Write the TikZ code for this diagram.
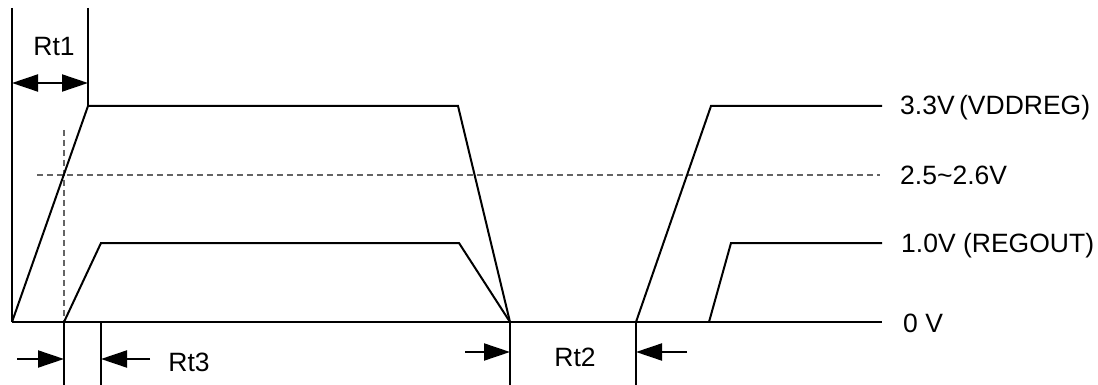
\documentclass[tikz,border=0pt]{standalone}
\usepackage{fontspec}
\setmainfont{Liberation Sans}
\usetikzlibrary{arrows.meta}
\definecolor{wvInk}{RGB}{0,0,0}
\definecolor{wvGray}{RGB}{100,100,100}
\tikzset{
    wave/.style={line width=2pt, color=wvInk, line join=miter},
    marker/.style={line width=2pt, color=wvInk},
    thresh/.style={line width=1.2pt, color=wvGray, dash pattern=on 6pt off 4pt},
    dimarrow/.style={line width=2pt, color=wvInk, -{Triangle[length=26pt, width=17pt]}},
    dimboth/.style={line width=2pt, color=wvInk,
                    {Triangle[length=26pt, width=17pt]}-{Triangle[length=26pt, width=17pt]}},
    level/.style={font=\fontsize{26.5}{32}\selectfont, anchor=base west, inner sep=0pt},
    tag/.style={font=\fontsize{26.5}{32}\selectfont, anchor=base, inner sep=0pt}
}
\begin{document}
\begin{tikzpicture}[x=1pt, y=-1pt]
  \useasboundingbox (0,0) rectangle (1098,385);

  % points of the two supplies
  \coordinate (start) at (12,322);
  \coordinate (vddUp) at (88,106);
  \coordinate (vddDn) at (458,106);
  \coordinate (low)   at (510,322);
  \coordinate (vddOn) at (636,322);
  \coordinate (vddHi) at (711,106);
  \coordinate (vddEnd) at (882,106);
  \coordinate (regOn) at (64,322);
  \coordinate (regUp) at (101,243);
  \coordinate (regDn) at (459,243);
  \coordinate (regOn2) at (709,322);
  \coordinate (regHi) at (731,243);
  \coordinate (regEnd) at (882,243);
  \coordinate (zeroEnd) at (882,322);

  % threshold lines
  \draw[thresh] (37,175) -- (880,175);
  \draw[thresh] (64,130) -- (regOn);

  % waveforms
  \draw[marker] (start) -- (zeroEnd);
  \draw[wave] (start) -- (vddUp) -- (vddDn) -- (low);
  \draw[wave] (regOn) -- (regUp) -- (regDn) -- (low);
  \draw[wave] (vddOn) -- (vddHi) -- (vddEnd);
  \draw[wave] (regOn2) -- (regHi) -- (regEnd);

  % timing marks
  \draw[marker] (12,8) -- (start);
  \draw[marker] (88,8) -- (vddUp);
  \draw[marker] (regOn) -- (64,385);
  \draw[marker] (101,322) -- (101,385);
  \draw[marker] (low) -- (510,385);
  \draw[marker] (vddOn) -- (636,385);

  \coordinate (rt1a) at (12,83);
  \coordinate (rt1b) at (88,83);
  \draw[dimboth] (rt1a) -- (rt1b);
  \node[tag] (rt1) at (54,56) {Rt1};

  \coordinate (rt3a) at (17,359);
  \coordinate (rt3b) at (64,359);
  \coordinate (rt3c) at (150,359);
  \coordinate (rt3d) at (101,359);
  \draw[dimarrow] (rt3a) -- (rt3b);
  \draw[dimarrow] (rt3c) -- (rt3d);
  \node[tag] (rt3) at (189,371) {Rt3};

  \coordinate (rt2a) at (465,352);
  \coordinate (rt2b) at (510,352);
  \coordinate (rt2c) at (687,352);
  \coordinate (rt2d) at (636,352);
  \draw[dimarrow] (rt2a) -- (rt2b);
  \draw[dimarrow] (rt2c) -- (rt2d);
  \node[tag] (rt2) at (575,366) {Rt2};

  % level labels
  \node[level] (l33) at (900,115) {3.3V\thinspace(VDDREG)};
  \node[level] (l25) at (900,184) {2.5\char`~2.6V};
  \node[level] (l10) at (901,252) {1.0V (REGOUT)};
  \node[level] (l00) at (903,332) {0 V};
\end{tikzpicture}
\end{document}
